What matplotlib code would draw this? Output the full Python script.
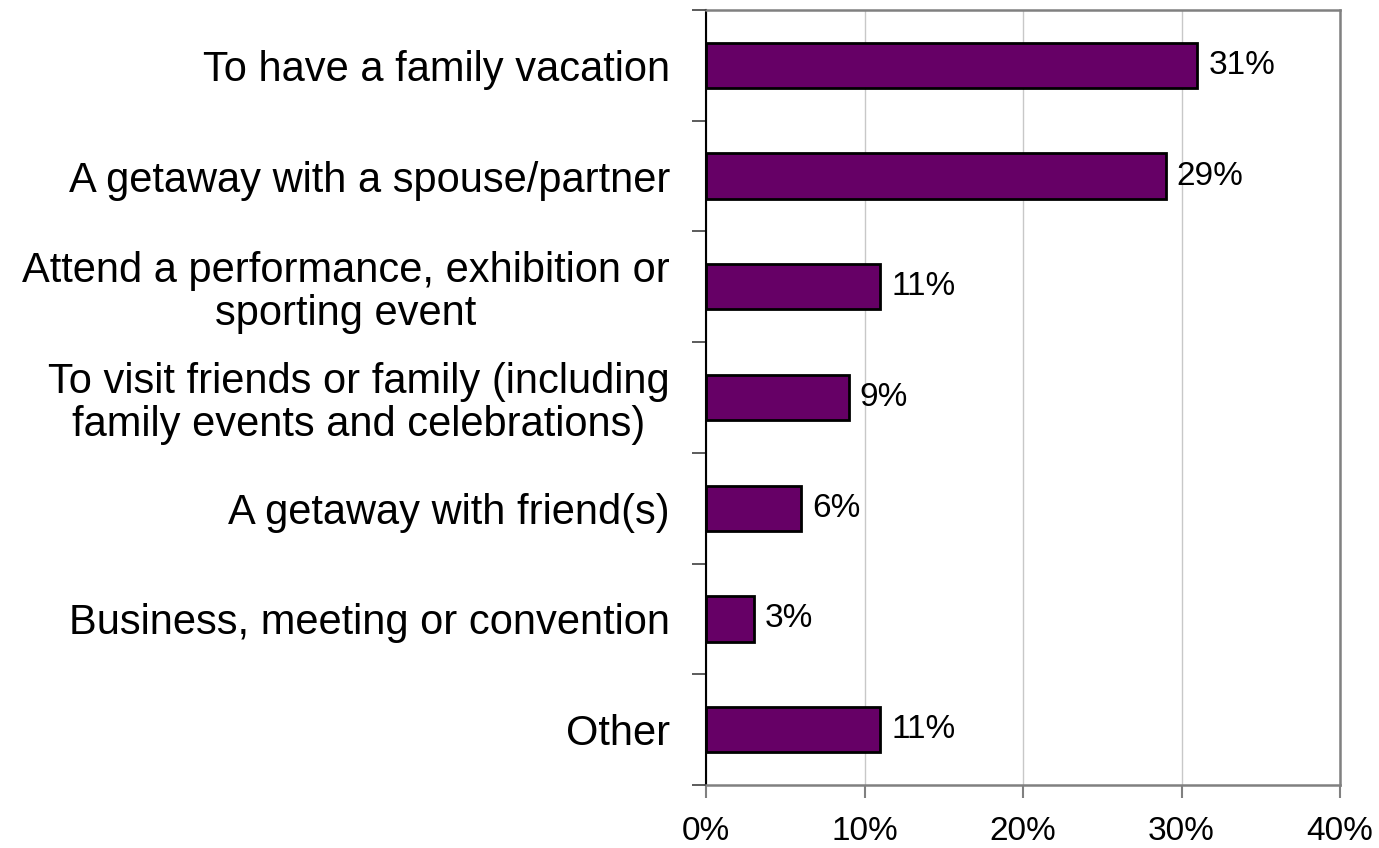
import numpy as np
import matplotlib
matplotlib.use('Agg')
import matplotlib.pyplot as plt
from matplotlib.ticker import FixedLocator

plt.rcParams['font.family'] = ['Liberation Sans', 'DejaVu Sans']

# data
categories = ['To have a family vacation',
              'A getaway with a spouse/partner',
              'Attend a performance, exhibition or\nsporting event',
              'To visit friends or family (including\nfamily events and celebrations)',
              'A getaway with friend(s)',
              'Business, meeting or convention',
              'Other']
values = [31, 29, 11, 9, 6, 3, 11]
x_ticks = [0, 10, 20, 30, 40]

fig = plt.figure(figsize=(13.79, 8.48), dpi=100)
ax = fig.add_axes([706 / 1379, 1 - 785 / 848, (1340 - 706) / 1379, (785 - 10) / 848])

y = np.arange(len(categories))
ax.barh(y, values, height=0.41, color='#660066', edgecolor='black', linewidth=2, zorder=3)

for yi, v in zip(y, values):
    ax.annotate(f'{v}%', xy=(v, yi), xytext=(8, 0), textcoords='offset points',
                ha='left', va='center', fontsize=24)

ax.set_xlim(0, 40)
ax.set_ylim(len(categories) - 0.5, -0.5)

ax.set_xticks(x_ticks)
ax.set_xticklabels([f'{t}%' for t in x_ticks], fontsize=24)
ax.tick_params(axis='x', length=9, width=1.5, color='#808080', pad=13)

ax.set_yticks(y)
ax.set_yticklabels(categories, fontsize=30, multialignment='center', linespacing=1.1)
ax.tick_params(axis='y', which='major', length=0, pad=26)
ax.yaxis.set_minor_locator(FixedLocator(np.arange(-0.5, len(categories), 1.0)))
ax.tick_params(axis='y', which='minor', length=10, width=1.2, color='#404040')

ax.grid(axis='x', color='#c8c8c8', linewidth=1, zorder=0)
ax.set_axisbelow(True)

ax.spines['left'].set_color('black')
ax.spines['left'].set_linewidth(1.5)
for s in ['top', 'right', 'bottom']:
    ax.spines[s].set_color('#808080')
    ax.spines[s].set_linewidth(1.8)

plt.savefig('out.png', dpi=100)
plt.close()
